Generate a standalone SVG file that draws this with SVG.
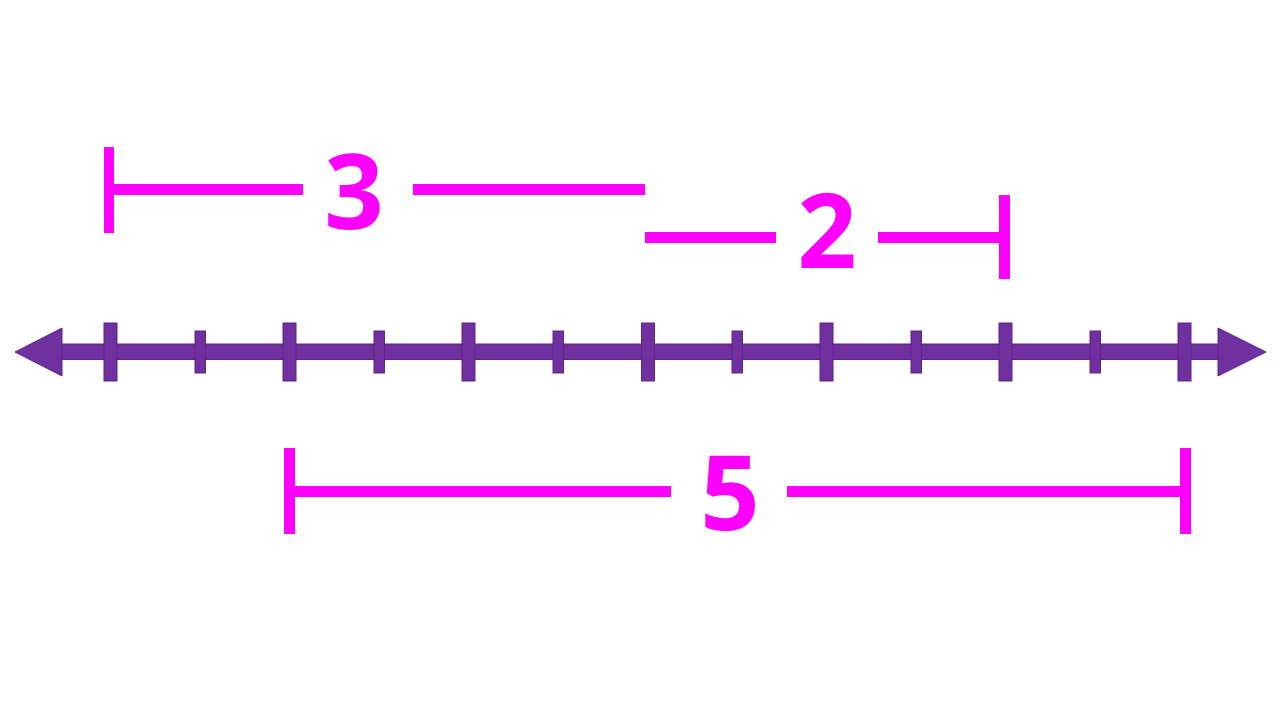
<svg xmlns="http://www.w3.org/2000/svg" width="1280" height="720" viewBox="0 0 1280 720">
<style>
.axis{fill:#7030A0;stroke:#5E2588;stroke-width:1}
.seg{fill:#FF00FF}
.lbl{font-family:"Open Sans","Noto Sans","Liberation Sans",sans-serif;font-weight:700;font-size:104px;fill:#FF00FF;text-anchor:middle}
</style>
<rect width="1280" height="720" fill="#FFFFFF"/>
<g id="number-line">
<rect class="axis" x="60" y="344" width="1160" height="15.5"/>
<polygon class="axis" points="15,352 62,328 62,376"/>
<polygon class="axis" points="1266,352 1218,328 1218,376"/>
<g id="major-ticks">
<rect class="axis" x="104" y="323" width="13" height="58"/>
<rect class="axis" x="283" y="323" width="13" height="58"/>
<rect class="axis" x="462" y="323" width="13" height="58"/>
<rect class="axis" x="641.5" y="323" width="13" height="58"/>
<rect class="axis" x="820" y="323" width="13" height="58"/>
<rect class="axis" x="999" y="323" width="13" height="58"/>
<rect class="axis" x="1178" y="323" width="13" height="58"/>
</g>
<g id="minor-ticks">
<rect class="axis" x="195" y="331" width="10.5" height="42"/>
<rect class="axis" x="374" y="331" width="10.5" height="42"/>
<rect class="axis" x="553" y="331" width="10.5" height="42"/>
<rect class="axis" x="732" y="331" width="10.5" height="42"/>
<rect class="axis" x="911" y="331" width="10.5" height="42"/>
<rect class="axis" x="1090" y="331" width="10.5" height="42"/>
</g>
</g>
<g id="connectors">
<g id="span-3">
<rect class="seg" x="104" y="147" width="10" height="86"/>
<rect class="seg" x="104" y="184" width="199" height="11"/>
<rect class="seg" x="413" y="184" width="232" height="11"/>
</g>
<g id="span-2">
<rect class="seg" x="645" y="232" width="131" height="11"/>
<rect class="seg" x="878" y="232" width="125" height="11"/>
<rect class="seg" x="999" y="195" width="11" height="84"/>
</g>
<g id="span-5">
<rect class="seg" x="284" y="448" width="11" height="86"/>
<rect class="seg" x="284" y="486" width="387" height="11"/>
<rect class="seg" x="787" y="486" width="400" height="11"/>
<rect class="seg" x="1180" y="448" width="11" height="86"/>
</g>
</g>
<g id="label-3"><text class="lbl" x="354" y="229">3</text></g>
<g id="label-2"><text class="lbl" x="827" y="268">2</text></g>
<g id="label-5"><text class="lbl" x="730" y="530">5</text></g>
</svg>
